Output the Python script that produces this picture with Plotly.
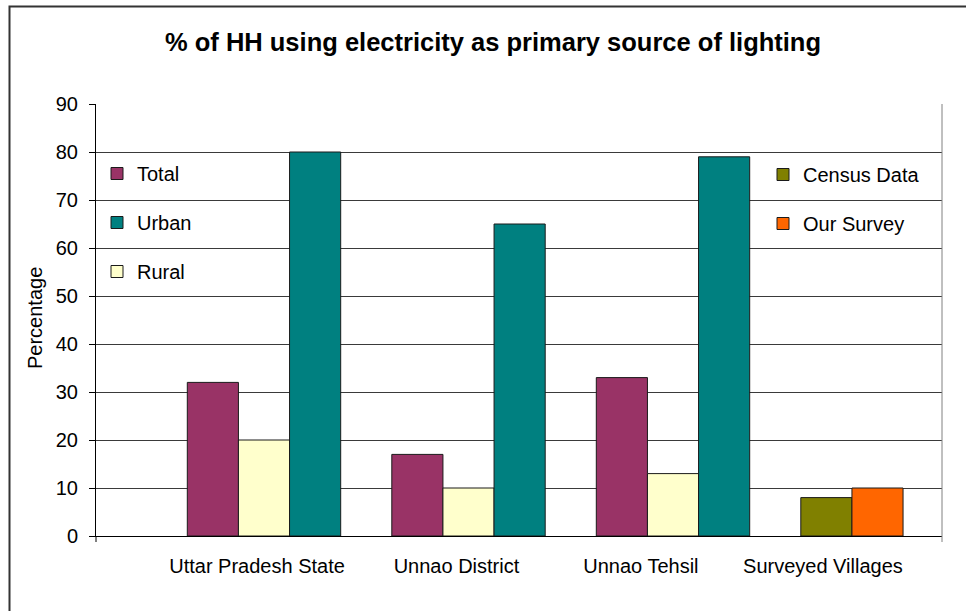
import plotly.graph_objects as go

# Categories and values (% of households using electricity for lighting)
categories = ["Uttar Pradesh State", "Unnao District", "Unnao Tehsil", "Surveyed Villages"]
census_areas = [0, 1, 2]          # index of the census area groups
village_group = [3]               # index of the surveyed-villages group
total_pct = [32, 17, 33]
rural_pct = [20, 10, 13]
urban_pct = [80, 65, 79]
census_pct = [8]
survey_pct = [10]
y_ticks = [0, 10, 20, 30, 40, 50, 60, 70, 80, 90]

W, H = 966, 611
ML, MR, MT, MB = 96, 24, 104, 75
PW, PH = W - ML - MR, H - MT - MB

def px_x(px):
    return (px - ML) / PW

def px_y(py):
    return 1 - (py - MT) / PH

FONT = "Liberation Sans, Arial, sans-serif"
EDGE = dict(color="#1a1a1a", width=1)
BW = 0.25

fig = go.Figure()

def add_bar(x, y, name, color, offset, rank, legend):
    fig.add_trace(go.Bar(
        x=x, y=y, name=name, width=BW, offset=offset,
        marker=dict(color=color, line=EDGE),
        legend=legend, legendgroup=name, legendrank=rank,
        hovertemplate=name + ": %{y}%<extra></extra>",
    ))

add_bar(census_areas, total_pct, "Total", "#993366", -0.375, 1, "legend")
add_bar(census_areas, rural_pct, "Rural", "#FFFFCC", -0.125, 3, "legend")
add_bar(census_areas, urban_pct, "Urban", "#008080", 0.125, 2, "legend")
add_bar(village_group, census_pct, "Census Data", "#808000", -0.375, 1, "legend2")
add_bar(village_group, survey_pct, "Our Survey", "#FF6600", -0.125, 2, "legend2")

x_lo, x_hi = -0.8215, 3.3154
label_pos = [-0.034, 0.941, 1.843, 2.733]

legend_common = dict(
    bgcolor="rgba(0,0,0,0)", borderwidth=0, font=dict(family=FONT, size=20, color="#000"),
    traceorder="grouped", tracegroupgap=20, xanchor="left", yanchor="top",
)

fig.update_layout(
    width=W, height=H,
    margin=dict(l=ML, r=MR, t=MT, b=MB, pad=0),
    paper_bgcolor="white", plot_bgcolor="white",
    barmode="overlay",
    font=dict(family=FONT, size=20, color="#000"),
    title=dict(
        text="<b>% of HH using electricity as primary source of lighting</b>",
        x=493 / W, xanchor="center", y=1 - 42 / H, yanchor="middle",
        font=dict(family=FONT, size=25.5, color="#000"),
    ),
    xaxis=dict(
        range=[x_lo, x_hi], tickmode="array", tickvals=label_pos, ticktext=categories,
        ticks="", showgrid=False, zeroline=False, showline=True, linecolor="#000",
        linewidth=1, ticklabelstandoff=12, tickfont=dict(family=FONT, size=20, color="#000"),
    ),
    yaxis=dict(
        range=[0, 90], tickmode="array", tickvals=y_ticks, ticks="outside", ticklen=6,
        tickcolor="#000", showline=True, linecolor="#000", linewidth=1,
        showgrid=True, gridcolor="#3a3a3a", gridwidth=1, zeroline=False,
        ticklabelstandoff=7, tickfont=dict(family=FONT, size=20, color="#000"),
    ),
    legend=dict(x=px_x(97), y=px_y(154), **legend_common),
    legend2=dict(x=px_x(763), y=px_y(155), **legend_common),
    showlegend=True,
)

fig.add_annotation(
    text="Percentage", textangle=-90, xref="paper", yref="paper",
    x=px_x(35), y=px_y(318), xanchor="center", yanchor="middle",
    showarrow=False, font=dict(family=FONT, size=20, color="#000"),
)

# right plot border in grey, extended slightly below the axis like a tick
fig.add_shape(type="line", xref="paper", yref="paper",
              x0=1, x1=1, y0=px_y(542), y1=1, line=dict(color="#808080", width=1))
# small tick under the left end of the category axis
fig.add_shape(type="line", xref="paper", yref="paper",
              x0=0, x1=0, y0=px_y(542), y1=0, line=dict(color="#000", width=1))
# chart frame
fig.add_shape(type="rect", xref="paper", yref="paper",
              x0=px_x(9.5), x1=px_x(H + 500), y0=px_y(H + 20), y1=px_y(6.5),
              line=dict(color="#333", width=2), layer="below")

fig.write_html("out.html")
